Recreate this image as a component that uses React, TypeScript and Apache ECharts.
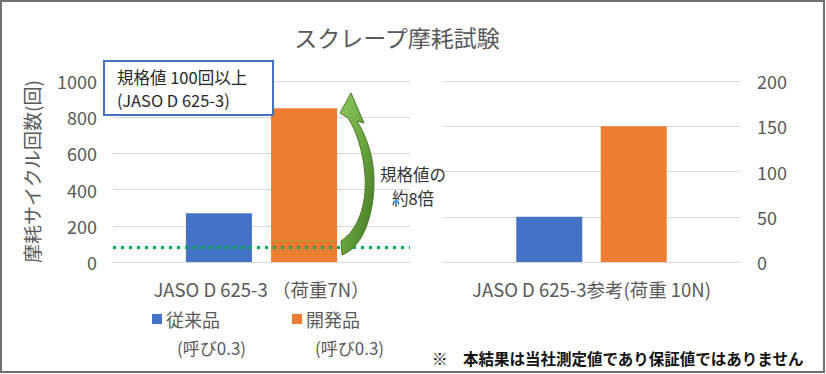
import { useEffect, useRef } from "react";
import * as echarts from "echarts";

const chartTitle = "スクレープ摩耗試験";
const yAxisName = "摩耗サイクル回数(回)";
const leftCategories = ["JASO D 625-3 （荷重7N）"];
const rightCategories = ["JASO D 625-3参考(荷重 10N)"];
const seriesNames = ["従来品", "開発品"];
const seriesSubLabels = ["(呼び0.3)", "(呼び0.3)"];
const leftConventional = [270];
const leftDeveloped = [850];
const rightConventional = [50];
const rightDeveloped = [150];
const standardValue = 83;
const boxLines = ["規格値 100回以上", "(JASO D 625-3)"];
const arrowLabel = ["規格値の", "約8倍"];
const footnote = "※　本結果は当社測定値であり保証値ではありません";

const FONT = '"Noto Sans CJK JP", "Noto Sans", sans-serif';
const AXIS_COLOR = "#595959";
const BLUE = "#4472C4";
const ORANGE = "#ED7D31";

const arrowPath =
  "M 341 241 C 358 230 367 205 365 175 C 363 150 356 130 348 118 L 340 113 L 351 93 L 364 123 L 357 121 C 367 137 375 160 374 185 C 373 220 361 248 342 255 Z";

let registered = false;

export default function App() {
  const ref = useRef<HTMLDivElement>(null);
  useEffect(() => {
    document.body.style.margin = "0";
    if (!registered) {
      echarts.graphic.registerShape("curvedArrow", echarts.graphic.extendPath(arrowPath, {}) as any);
      registered = true;
    }
    const chart = echarts.init(ref.current!, null, { renderer: "svg" });
    const axisCommon = {
      axisLine: { show: true, lineStyle: { color: "#d9d9d9", width: 1 } },
      axisTick: { show: false },
      splitLine: { show: false },
    };
    const plain = (v: number) => String(v);
    const smallText = (x: number, y: number, text: string, fill: string, align: string = "left", size = 17) => ({
      type: "text",
      x,
      y,
      z: 51,
      style: {
        text,
        fontFamily: FONT,
        fontSize: size,
        lineHeight: size,
        fill,
        textAlign: align,
        textVerticalAlign: "middle",
      },
    });
    chart.setOption({
      animation: false,
      backgroundColor: "#ffffff",
      textStyle: { fontFamily: FONT },
      title: {
        text: chartTitle,
        left: 397,
        top: 37,
        textAlign: "center",
        textVerticalAlign: "middle",
        textStyle: { fontFamily: FONT, fontSize: 23, fontWeight: "normal", color: AXIS_COLOR },
        padding: 0,
      },
      legend: [
        {
          data: [seriesNames[0]],
          left: 152,
          top: 310,
          icon: "rect",
          itemWidth: 10,
          itemHeight: 10,
          itemGap: 4,
          padding: 0,
          textStyle: { fontFamily: FONT, fontSize: 18, color: AXIS_COLOR, padding: [0, 0, 0, -1] },
        },
        {
          data: [seriesNames[1]],
          left: 292,
          top: 310,
          icon: "rect",
          itemWidth: 10,
          itemHeight: 10,
          itemGap: 4,
          padding: 0,
          textStyle: { fontFamily: FONT, fontSize: 18, color: AXIS_COLOR, padding: [0, 0, 0, -1] },
        },
      ],
      grid: [
        { left: 113, right: 416, top: 81, bottom: 112 },
        { left: 443, right: 86, top: 81, bottom: 112 },
      ],
      xAxis: [
        {
          type: "category",
          gridIndex: 0,
          data: leftCategories,
          ...axisCommon,
          axisLabel: { fontFamily: FONT, fontSize: 18.5, color: AXIS_COLOR, margin: 18 },
        },
        {
          type: "category",
          gridIndex: 1,
          data: rightCategories,
          ...axisCommon,
          axisLabel: { fontFamily: FONT, fontSize: 18.5, color: AXIS_COLOR, margin: 18 },
        },
      ],
      yAxis: [
        {
          type: "value",
          gridIndex: 0,
          min: 0,
          max: 1000,
          interval: 200,
          axisLine: { show: false },
          axisTick: { show: false },
          splitLine: { lineStyle: { color: "#d9d9d9", width: 1 } },
          axisLabel: { fontFamily: FONT, fontSize: 18, color: AXIS_COLOR, margin: 16, formatter: plain },
          name: yAxisName,
          nameLocation: "middle",
          nameRotate: 90,
          nameGap: 72,
          nameTextStyle: { fontFamily: FONT, fontSize: 19, color: AXIS_COLOR },
        },
        {
          type: "value",
          gridIndex: 1,
          position: "right",
          min: 0,
          max: 200,
          interval: 50,
          axisLine: { show: false },
          axisTick: { show: false },
          splitLine: { lineStyle: { color: "#d9d9d9", width: 1 } },
          axisLabel: { fontFamily: FONT, fontSize: 18, color: AXIS_COLOR, margin: 17, formatter: plain },
        },
      ],
      series: [
        {
          name: seriesNames[0],
          type: "bar",
          xAxisIndex: 0,
          yAxisIndex: 0,
          data: leftConventional,
          barWidth: 66,
          barGap: "29%",
          itemStyle: { color: BLUE },
          markLine: {
            silent: true,
            symbol: "none",
            label: { show: false },
            lineStyle: { color: "#00B050", width: 3, type: [3, 5] },
            data: [{ yAxis: standardValue }],
          },
        },
        {
          name: seriesNames[1],
          type: "bar",
          xAxisIndex: 0,
          yAxisIndex: 0,
          data: leftDeveloped,
          barWidth: 66,
          barGap: "29%",
          itemStyle: { color: ORANGE },
        },
        {
          name: seriesNames[0],
          type: "bar",
          xAxisIndex: 1,
          yAxisIndex: 1,
          data: rightConventional,
          barWidth: 66,
          barGap: "28%",
          itemStyle: { color: BLUE },
        },
        {
          name: seriesNames[1],
          type: "bar",
          xAxisIndex: 1,
          yAxisIndex: 1,
          data: rightDeveloped,
          barWidth: 66,
          barGap: "28%",
          itemStyle: { color: ORANGE },
        },
      ],
      graphic: [
        {
          type: "rect",
          shape: { x: 1, y: 1, width: 823, height: 371 },
          style: { fill: "none", stroke: "#707070", lineWidth: 2 },
          z: 100,
          silent: true,
        },
        {
          type: "rect",
          shape: { x: 104, y: 61, width: 169, height: 54 },
          style: { fill: "#ffffff", stroke: BLUE, lineWidth: 2 },
          z: 50,
        },
        smallText(117, 77, boxLines[0], "#262626", "left", 16.5),
        smallText(117, 100, boxLines[1], "#262626", "left", 16.5),
        {
          type: "curvedArrow",
          x: 0,
          y: 0,
          z: 50,
          style: {
            fill: new echarts.graphic.LinearGradient(0, 0, 1, 1, [
              { offset: 0, color: "#8cc860" },
              { offset: 0.5, color: "#6aa63e" },
              { offset: 1, color: "#3f7022" },
            ]),
            stroke: "#4b7a2c",
            lineWidth: 1,
          },
        },
        smallText(413, 174, arrowLabel[0], "#333333", "center", 16.5),
        smallText(413, 198, arrowLabel[1], "#333333", "center", 16.5),
        smallText(177, 347, seriesSubLabels[0], AXIS_COLOR),
        smallText(315, 347, seriesSubLabels[1], AXIS_COLOR),
        {
          type: "text",
          x: 432,
          y: 358,
          style: {
            text: footnote,
            fontFamily: FONT,
            fontSize: 15.5,
            fontWeight: "bold",
            fill: "#111111",
            textVerticalAlign: "middle",
          },
        },
      ],
    });
    return () => chart.dispose();
  }, []);
  return <div ref={ref} style={{ width: 826, height: 374 }} />;
}
